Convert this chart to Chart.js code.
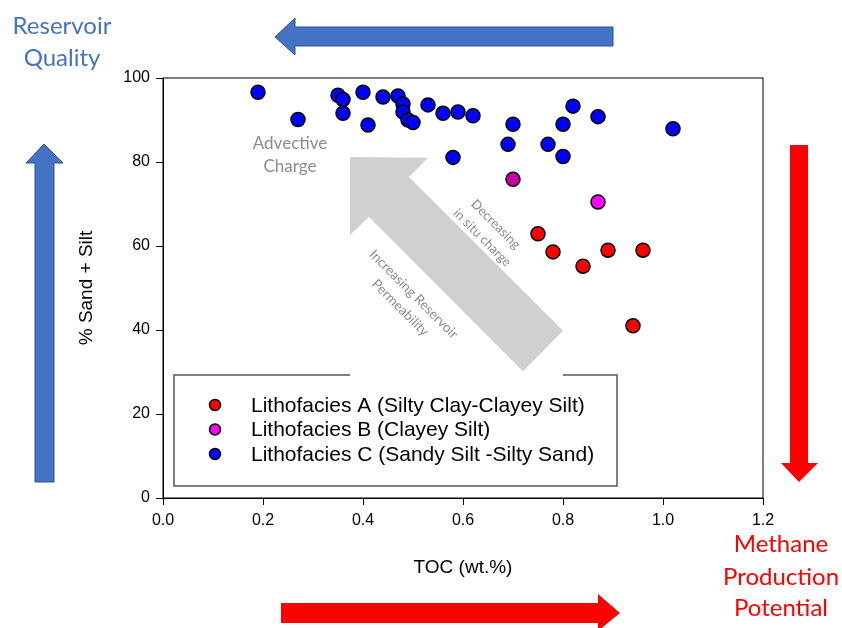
<!DOCTYPE html>
<html>
<head>
<meta charset="utf-8">
<script src="https://cdn.jsdelivr.net/npm/chart.js@4"></script>
<style>
  html, body { margin: 0; padding: 0; background: #fff; }
  #wrap { width: 842px; height: 628px; }
</style>
</head>
<body>
<div id="wrap"><canvas id="myChart" width="842" height="628"></canvas></div>
<script>
// TOC (wt.%) vs % Sand + Silt
const litA_toc  = [0.75, 0.78, 0.84, 0.89, 0.96, 0.94];
const litA_sand = [62.9, 58.6, 55.2, 59.0, 59.0, 41.0];

const litB_toc  = [0.70, 0.87];
const litB_sand = [75.9, 70.5];
const litB_colors = ['#c800a8', '#ff00ff'];

const litC_toc  = [0.19, 0.27, 0.35, 0.36, 0.36, 0.40, 0.41, 0.44, 0.47, 0.48, 0.48, 0.49, 0.50,
                   0.53, 0.56, 0.59, 0.62, 0.58, 0.70, 0.69, 0.77, 0.80, 0.80, 0.82, 0.87, 1.02];
const litC_sand = [96.6, 90.1, 95.9, 94.9, 91.6, 96.6, 88.8, 95.5, 95.7, 93.8, 91.9, 90.0, 89.4,
                   93.6, 91.6, 91.9, 91.0, 81.1, 89.0, 84.2, 84.2, 89.0, 81.3, 93.3, 90.8, 87.9];

const legendLabels = ['Lithofacies A (Silty Clay-Clayey Silt)',
                      'Lithofacies B (Clayey Silt)',
                      'Lithofacies C (Sandy Silt -Silty Sand)'];
const legendColors = ['#ff0000', '#ff00ff', '#0000ff'];

const xTicks = [0, 0.2, 0.4, 0.6, 0.8, 1.0, 1.2];
const yTicks = [0, 20, 40, 60, 80, 100];

// big grey arrow, in data units (toc, sand)
const greyArrow = [[0.374, 81.2], [0.530, 81.0], [0.492, 76.4], [0.800, 39.8],
                   [0.720, 30.2], [0.412, 66.9], [0.374, 62.6]];

function pts(xs, ys) {
  return xs.map((x, i) => ({x: x, y: ys[i]}));
}

function poly(ctx, p, fill, stroke) {
  ctx.beginPath();
  ctx.moveTo(p[0][0], p[0][1]);
  for (let i = 1; i < p.length; i++) ctx.lineTo(p[i][0], p[i][1]);
  ctx.closePath();
  ctx.fillStyle = fill;
  ctx.fill();
  if (stroke) {
    ctx.strokeStyle = stroke;
    ctx.lineWidth = 1;
    ctx.stroke();
  }
}

function rotText(ctx, lines, cx, cy, ang, lh) {
  ctx.save();
  ctx.translate(cx, cy);
  ctx.rotate(ang);
  for (let i = 0; i < lines.length; i++) {
    ctx.fillText(lines[i], 0, (i - (lines.length - 1) / 2) * lh);
  }
  ctx.restore();
}

const decor = {
  id: 'decor',
  beforeDatasetsDraw(chart) {
    const ctx = chart.ctx;
    const a = chart.chartArea;
    const xs = chart.scales.x, ys = chart.scales.y;

    // frame top/right
    ctx.save();
    ctx.strokeStyle = '#000';
    ctx.lineWidth = 1;
    ctx.strokeRect(a.left, a.top, a.right - a.left, a.bottom - a.top);

    // legend box
    const lx = 174, ly = 375, lw = 443, lh = 111;
    ctx.fillStyle = '#fff';
    ctx.fillRect(lx, ly, lw, lh);
    ctx.strokeStyle = '#555';
    ctx.lineWidth = 1.5;
    ctx.strokeRect(lx, ly, lw, lh);

    // grey arrow (white box around it cuts the legend border)
    const p = greyArrow.map(d => [xs.getPixelForValue(d[0]), ys.getPixelForValue(d[1])]);
    const minX = Math.min(...p.map(q => q[0])), maxX = Math.max(...p.map(q => q[0]));
    ctx.fillStyle = '#fff';
    ctx.fillRect(minX, ly - 2, maxX - minX, 4);
    ctx.save();
    ctx.beginPath();
    ctx.rect(a.left, a.top, a.right - a.left, ly - 2 - a.top);
    ctx.clip();
    poly(ctx, p, '#d0d0d0');
    ctx.restore();

    // legend entries
    ctx.font = '21px "Liberation Sans", Arial, sans-serif';
    ctx.textBaseline = 'middle';
    ctx.textAlign = 'left';
    for (let i = 0; i < legendLabels.length; i++) {
      const y = 405 + i * 24.5;
      ctx.beginPath();
      ctx.arc(215, y, 5.5, 0, Math.PI * 2);
      ctx.fillStyle = legendColors[i];
      ctx.fill();
      ctx.strokeStyle = '#000';
      ctx.lineWidth = 1.5;
      ctx.stroke();
      ctx.fillStyle = '#000';
      ctx.fillText(legendLabels[i], 251, y + 1);
    }

    // arrow texts
    ctx.fillStyle = '#8c8c8c';
    ctx.textAlign = 'center';
    ctx.font = '17px Lato, sans-serif';
    ctx.fillText('Advective', 290, 144);
    ctx.fillText('Charge', 290, 167);
    ctx.font = '13px Lato, sans-serif';
    rotText(ctx, ['Decreasing', 'in situ charge'], 489, 231, Math.PI / 4, 19);
    ctx.font = '13.5px Lato, sans-serif';
    rotText(ctx, ['Increasing Reservoir', 'Permeability'], 407, 301, Math.PI / 4, 19);
    ctx.restore();
  },
  afterDraw(chart) {
    const ctx = chart.ctx;
    ctx.save();
    // blue arrows
    poly(ctx, [[275, 37], [295, 18], [295, 27], [613, 27], [613, 46], [295, 46], [295, 55]], '#4472c4', '#2f528f');
    poly(ctx, [[44, 144], [63, 163], [54, 163], [54, 482], [35, 482], [35, 163], [26, 163]], '#4472c4', '#2f528f');
    // red arrows
    poly(ctx, [[799, 482], [818, 463], [808, 463], [808, 145], [790, 145], [790, 463], [781, 463]], '#ff0000');
    poly(ctx, [[620, 613], [598, 594], [598, 603], [281, 603], [281, 623], [598, 623], [598, 631]], '#ff0000');

    ctx.textAlign = 'center';
    ctx.textBaseline = 'alphabetic';
    ctx.font = '24px Lato, sans-serif';
    ctx.fillStyle = '#4472c4';
    ctx.fillText('Reservoir', 62, 34);
    ctx.fillText('Quality', 62, 66);
    ctx.fillStyle = '#ff0000';
    ctx.fillText('Methane', 781, 552);
    ctx.fillText('Production', 781, 585);
    ctx.fillText('Potential', 781, 616);
    ctx.restore();
  }
};

const pointStyle = {
  showLine: false,
  pointRadius: 7,
  pointHoverRadius: 7,
  borderColor: '#000',
  borderWidth: 1.5
};

const axisFont = {family: '"Liberation Sans", Arial, sans-serif', size: 16};
const titleFont = {family: '"Liberation Sans", Arial, sans-serif', size: 19};

new Chart(document.getElementById('myChart'), {
  type: 'scatter',
  data: {
    datasets: [
      Object.assign({label: legendLabels[0], data: pts(litA_toc, litA_sand), backgroundColor: '#ff0000'}, pointStyle),
      Object.assign({label: legendLabels[1], data: pts(litB_toc, litB_sand), backgroundColor: litB_colors}, pointStyle),
      Object.assign({label: legendLabels[2], data: pts(litC_toc, litC_sand), backgroundColor: '#0000ff'}, pointStyle)
    ]
  },
  options: {
    responsive: false,
    animation: false,
    devicePixelRatio: 1,
    layout: { padding: {left: 0, top: 78, right: 79, bottom: 0} },
    plugins: { legend: {display: false}, tooltip: {enabled: false} },
    scales: {
      x: {
        type: 'linear', min: 0, max: 1.2,
        afterBuildTicks: (s) => { s.ticks = xTicks.map(v => ({value: v})); },
        afterFit: (s) => { s.height = 130; },
        ticks: { color: '#000', font: axisFont, padding: 6, callback: v => v.toFixed(1) },
        grid: { drawOnChartArea: false, drawTicks: true, tickLength: 7, color: '#000' },
        border: { color: '#000', width: 1 },
        title: { display: true, text: 'TOC (wt.%)', color: '#000', font: titleFont, padding: {top: 0, bottom: 49} }
      },
      y: {
        min: 0, max: 100,
        afterBuildTicks: (s) => { s.ticks = yTicks.map(v => ({value: v})); },
        afterFit: (s) => { s.width = 163; },
        ticks: { color: '#000', font: axisFont, padding: 6 },
        grid: { drawOnChartArea: false, drawTicks: true, tickLength: 7, color: '#000' },
        border: { color: '#000', width: 1 },
        title: { display: true, text: '% Sand + Silt', color: '#000', font: titleFont, padding: {top: 75, bottom: 0} }
      }
    }
  },
  plugins: [decor]
});
</script>
</body>
</html>
